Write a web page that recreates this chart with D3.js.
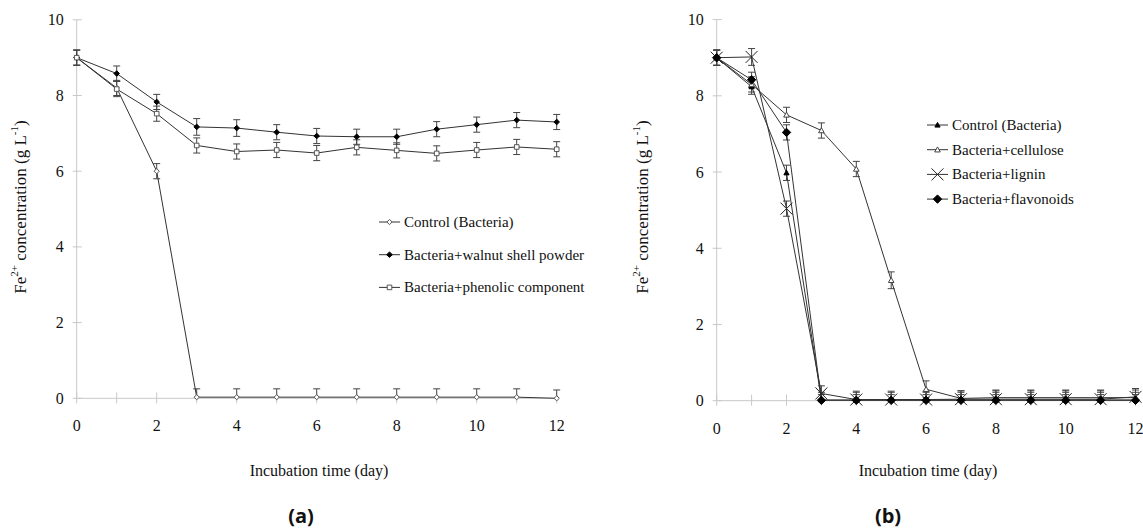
<!DOCTYPE html>
<html>
<head>
<meta charset="utf-8">
<script src="https://cdn.jsdelivr.net/npm/d3@7"></script>
<style>
  body { margin: 0; background: #fff; }
  svg text { font-family: "Liberation Serif", "DejaVu Serif", "Times New Roman", serif; fill: #111; }
  svg text.panel-tag { font-family: "Open Sans", "DejaVu Sans", sans-serif; font-weight: bold; }
</style>
</head>
<body>
<svg id="chart" width="1143" height="529"></svg>
<script>
// Fe2+ concentration over incubation time, two panels

const days = [0, 1, 2, 3, 4, 5, 6, 7, 8, 9, 10, 11, 12];
const yTicks = [0, 2, 4, 6, 8, 10];
const xTickLabels = [0, 2, 4, 6, 8, 10, 12];

// panel (a)
const aControl  = [9.0, 8.2, 6.0, 0.03, 0.03, 0.03, 0.03, 0.03, 0.03, 0.03, 0.03, 0.03, 0.0];
const aControlErr = [0.2, 0.2, 0.2, 0.22, 0.22, 0.22, 0.22, 0.22, 0.22, 0.22, 0.22, 0.22, 0.22];
const aWalnut   = [9.0, 8.58, 7.83, 7.17, 7.14, 7.03, 6.93, 6.91, 6.91, 7.11, 7.23, 7.35, 7.30];
const aWalnutErr = [0.2, 0.2, 0.2, 0.22, 0.22, 0.2, 0.2, 0.2, 0.2, 0.2, 0.2, 0.2, 0.2];
const aPhenolic = [9.0, 8.17, 7.52, 6.68, 6.52, 6.56, 6.48, 6.63, 6.55, 6.47, 6.56, 6.64, 6.58];
const aPhenolicErr = [0.2, 0.2, 0.2, 0.2, 0.2, 0.2, 0.2, 0.2, 0.2, 0.2, 0.2, 0.2, 0.2];

// panel (b)
const bControl   = [9.0, 8.24, 5.98, 0.02, 0.02, 0.02, 0.02, 0.02, 0.02, 0.02, 0.02, 0.02, 0.02];
const bControlErr = [0.2, 0.2, 0.2, 0.2, 0.2, 0.2, 0.2, 0.2, 0.2, 0.2, 0.2, 0.2, 0.2];
const bCellulose = [9.0, 8.3, 7.5, 7.09, 6.08, 3.16, 0.3, 0.06, 0.08, 0.08, 0.08, 0.08, 0.08];
const bCelluloseErr = [0.2, 0.2, 0.2, 0.2, 0.2, 0.22, 0.22, 0.2, 0.2, 0.2, 0.2, 0.2, 0.2];
const bLignin    = [9.0, 9.02, 5.04, 0.19, 0.03, 0.03, 0.03, 0.04, 0.04, 0.04, 0.04, 0.04, 0.1];
const bLigninErr = [0.2, 0.22, 0.2, 0.2, 0.22, 0.22, 0.22, 0.22, 0.22, 0.22, 0.22, 0.22, 0.22];
const bFlavonoid = [9.0, 8.42, 7.04, 0.01, 0.01, 0.01, 0.01, 0.01, 0.01, 0.01, 0.01, 0.01, 0.01];
const bFlavonoidErr = [0.2, 0.2, 0.2, 0.15, 0.15, 0.15, 0.15, 0.15, 0.15, 0.15, 0.15, 0.15, 0.15];

const svg = d3.select('#chart');
const serif = '"Liberation Serif", "DejaVu Serif", serif';

// marker shapes
function markerPath(type, s) {
    switch (type) {
        case 'diamond': return `M0,${-s}L${s},0L0,${s}L${-s},0Z`;
        case 'square': return `M${-s},${-s}H${s}V${s}H${-s}Z`;
        case 'triangle': return `M0,${-s}L${s},${s * 0.8}L${-s},${s * 0.8}Z`;
        case 'x': return `M${-s},${-s}L${s},${s}M${s},${-s}L${-s},${s}`;
    }
}

function drawMarker(g, type, filled, size, color) {
    g.append('path')
        .attr('d', markerPath(type, size))
        .attr('fill', type === 'x' ? 'none' : (filled ? '#000' : '#fff'))
        .attr('stroke', color)
        .attr('stroke-width', 1);
}

function drawPanel(cfg) {
    const x = d3.scaleLinear().domain([0, 12]).range(cfg.xRange);
    const y = d3.scaleLinear().domain([0, 10]).range(cfg.yRange);
    const g = svg.append('g').attr('font-family', serif);
    const axisColor = '#c8c8c8';

    // y axis
    g.append('line')
        .attr('x1', x(0)).attr('x2', x(0))
        .attr('y1', y(0)).attr('y2', y(10))
        .attr('stroke', axisColor);
    yTicks.forEach(t => {
        g.append('line')
            .attr('x1', x(0) - 4).attr('x2', x(0) + 5)
            .attr('y1', y(t)).attr('y2', y(t))
            .attr('stroke', axisColor);
        g.append('text')
            .attr('x', x(0) - 13).attr('y', y(t) + 5.5)
            .attr('text-anchor', 'end')
            .style('font-family', serif)
            .style('font-size', '16px')
            .text(t);
    });

    // x axis
    g.append('line')
        .attr('x1', x(0)).attr('x2', x(12))
        .attr('y1', y(0)).attr('y2', y(0))
        .attr('stroke', axisColor);
    days.forEach(d => {
        g.append('line')
            .attr('x1', x(d)).attr('x2', x(d))
            .attr('y1', y(0) - 6).attr('y2', y(0) + 5)
            .attr('stroke', axisColor);
    });
    xTickLabels.forEach(t => {
        g.append('text')
            .attr('x', x(t)).attr('y', y(0) + 33)
            .attr('text-anchor', 'middle')
            .style('font-family', serif)
            .style('font-size', '16px')
            .text(t);
    });

    // axis titles
    g.append('text')
        .attr('x', cfg.xTitleX).attr('y', 476)
        .attr('text-anchor', 'middle')
        .style('font-family', serif)
        .style('font-size', '16px')
        .text('Incubation time (day)');

    const yt = g.append('text')
        .attr('transform', `translate(${cfg.yTitleX},207) rotate(-90)`)
        .attr('text-anchor', 'middle')
        .style('font-family', serif)
        .style('font-size', '17px');
    yt.append('tspan').text('Fe');
    yt.append('tspan').attr('dy', -8).style('font-size', '11px').text('2+');
    yt.append('tspan').attr('dy', 8).text(' concentration (g L');
    yt.append('tspan').attr('dy', -8).style('font-size', '11px').text('-1');
    yt.append('tspan').attr('dy', 8).text(')');

    g.append('text')
        .attr('class', 'panel-tag')
        .attr('x', cfg.tagX).attr('y', 523)
        .attr('text-anchor', 'middle')
        .style('font-size', '20px')
        .text(cfg.tag);

    const line = d3.line()
        .x((v, i) => x(days[i]))
        .y(v => y(v));

    // error bars first, then lines and markers
    cfg.series.forEach(s => {
        s.values.forEach((v, i) => {
            const top = y(v + s.err[i]);
            const bot = y(Math.max(0, v - s.err[i]));
            const cx = x(days[i]);
            g.append('line').attr('x1', cx).attr('x2', cx).attr('y1', top).attr('y2', bot)
                .attr('stroke', '#444').attr('stroke-width', 1);
            g.append('line').attr('x1', cx - 3.5).attr('x2', cx + 3.5).attr('y1', top).attr('y2', top)
                .attr('stroke', '#444').attr('stroke-width', 1);
            if (v - s.err[i] > 0.05) {
                g.append('line').attr('x1', cx - 3.5).attr('x2', cx + 3.5).attr('y1', bot).attr('y2', bot)
                    .attr('stroke', '#444').attr('stroke-width', 1);
            }
        });
    });

    cfg.series.forEach(s => {
        g.append('path')
            .datum(s.values)
            .attr('d', line)
            .attr('fill', 'none')
            .attr('stroke', '#333')
            .attr('stroke-width', 1);
    });

    cfg.series.forEach(s => {
        s.values.forEach((v, i) => {
            const m = g.append('g').attr('transform', `translate(${x(days[i])},${y(v)})`);
            drawMarker(m, s.marker, s.filled, s.size, s.color);
        });
    });

    // legend
    cfg.series.forEach((s, i) => {
        const ly = cfg.legendY + i * cfg.legendStep;
        const lg = g.append('g');
        lg.append('line')
            .attr('x1', cfg.legendX).attr('x2', cfg.legendX + 21)
            .attr('y1', ly).attr('y2', ly)
            .attr('stroke', '#333');
        const m = lg.append('g').attr('transform', `translate(${cfg.legendX + 10.5},${ly})`);
        drawMarker(m, s.marker, s.filled, s.size, s.color);
        lg.append('text')
            .attr('x', cfg.legendX + 25).attr('y', ly + 5)
            .style('font-family', serif)
            .style('font-size', '15px')
            .text(s.name);
    });
}

drawPanel({
    xRange: [76.7, 556.7],
    yRange: [398.3, 19.8],
    xTitleX: 319, yTitleX: 26, tagX: 301, tag: '(a)',
    legendX: 379, legendY: 222, legendStep: 32.7,
    series: [
        { name: 'Control (Bacteria)', values: aControl, err: aControlErr, marker: 'diamond', filled: false, size: 2.6, color: '#555' },
        { name: 'Bacteria+walnut shell powder', values: aWalnut, err: aWalnutErr, marker: 'diamond', filled: true, size: 2.8, color: '#000' },
        { name: 'Bacteria+phenolic component', values: aPhenolic, err: aPhenolicErr, marker: 'square', filled: false, size: 2.3, color: '#555' }
    ]
});

drawPanel({
    xRange: [716.7, 1135.5],
    yRange: [400.7, 19.6],
    xTitleX: 928, yTitleX: 648, tagX: 888, tag: '(b)',
    legendX: 927, legendY: 125, legendStep: 24.7,
    series: [
        { name: 'Control (Bacteria)', values: bControl, err: bControlErr, marker: 'triangle', filled: true, size: 2.6, color: '#000' },
        { name: 'Bacteria+cellulose', values: bCellulose, err: bCelluloseErr, marker: 'triangle', filled: false, size: 2.8, color: '#444' },
        { name: 'Bacteria+lignin', values: bLignin, err: bLigninErr, marker: 'x', filled: false, size: 6, color: '#222' },
        { name: 'Bacteria+flavonoids', values: bFlavonoid, err: bFlavonoidErr, marker: 'diamond', filled: true, size: 4.2, color: '#000' }
    ]
});
</script>
</body>
</html>
